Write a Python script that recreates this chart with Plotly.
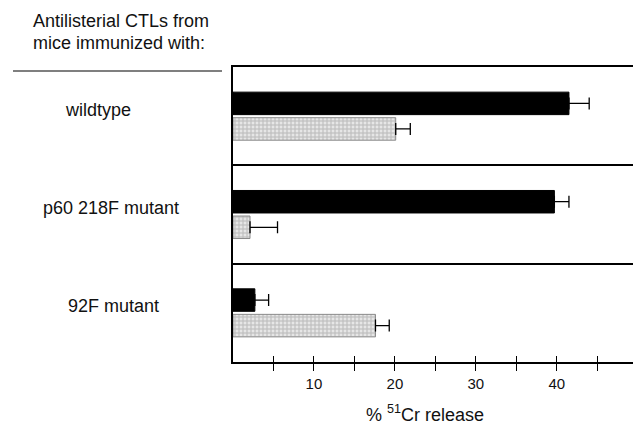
import plotly.graph_objects as go

categories = ["wildtype", "p60 218F mutant", "92F mutant"]
black_vals = [41.5, 39.7, 2.7]
black_err = [2.5, 1.8, 1.7]
gray_vals = [20.1, 2.1, 17.6]
gray_err = [1.8, 3.4, 1.7]
label_ticks = [10, 20, 30, 40]
label_text = ["10", "20", "30", "40"]
minor_ticks = [5, 15, 25, 35, 45]
all_ticks = [5, 10, 15, 20, 25, 30, 35, 40, 45]
header_lines = ["Antilisterial CTLs from", "mice immunized with:"]
x_title = "% <sup>51</sup>Cr release"

FONT = "Liberation Sans, Arial, Helvetica, sans-serif"
TXT = "#111111"
XMAX = 50.4

# page geometry (page body has an 8px margin)
OFF = 8
PLOT_L, PLOT_T, PLOT_B, PAGE_W, PAGE_H = 233, 67, 362, 641, 425
plot_w = PAGE_W - PLOT_L
plot_h = PLOT_B - PLOT_T


def px(x):
    return (x - PLOT_L) / plot_w


def py(y):
    return (PLOT_B - y) / plot_h


fig = go.Figure()
fig.add_trace(go.Bar(
    y=categories, x=black_vals, orientation="h",
    marker=dict(color="black", line=dict(color="black", width=1)),
    error_x=dict(type="data", array=black_err, arrayminus=[0] * 3, symmetric=False,
                 color="black", thickness=1.3, width=6),
    showlegend=False,
))
fig.add_trace(go.Bar(
    y=categories, x=gray_vals, orientation="h",
    marker=dict(color="#d0d0d0",
                pattern=dict(shape="+", size=4, solidity=0.45, fgcolor="#8c8c8c", bgcolor="#e6e6e6"),
                line=dict(color="#8a8a8a", width=1)),
    error_x=dict(type="data", array=gray_err, arrayminus=[0] * 3, symmetric=False,
                 color="black", thickness=1.3, width=6),
    showlegend=False,
))
# invisible trace on second x-axis, used for the inside half of the ticks
fig.add_trace(go.Scatter(x=[0], y=[categories[0]], xaxis="x2", mode="markers",
                         marker=dict(opacity=0), showlegend=False, hoverinfo="skip"))

label_x = [97.5, 111, 114]
for cat, lx in zip(categories, label_x):
    fig.add_annotation(x=px(lx), xref="paper", y=cat, yref="y", yshift=6.5,
                       xanchor="center", yanchor="middle", showarrow=False,
                       text=cat, font=dict(family=FONT, size=18, color=TXT))

for line, ly in zip(header_lines, [21, 43]):
    fig.add_annotation(x=px(31), xref="paper", y=py(ly), yref="paper",
                       xanchor="left", yanchor="middle", showarrow=False,
                       text=line, font=dict(family=FONT, size=18, color=TXT))

fig.add_annotation(x=px(425), xref="paper", y=py(414), yref="paper",
                   xanchor="center", yanchor="middle", showarrow=False,
                   text=x_title, font=dict(family=FONT, size=18, color=TXT))

fig.add_shape(type="line", xref="paper", yref="paper",
              x0=px(13), x1=px(222), y0=py(71), y1=py(71),
              line=dict(color="black", width=1.2))

fig.update_layout(
    width=PAGE_W - OFF, height=PAGE_H - OFF,
    margin=dict(l=PLOT_L - OFF, r=0, t=PLOT_T - OFF, b=PAGE_H - PLOT_B),
    paper_bgcolor="white", plot_bgcolor="white",
    barmode="group", bargap=0.48, bargroupgap=0.12,
    xaxis=dict(range=[0, XMAX], tickvals=label_ticks, ticktext=label_text,
               ticks="outside", ticklen=7, tickwidth=1.3, tickcolor="black",
               minor=dict(tickvals=minor_ticks, ticks="outside", ticklen=7,
                          tickwidth=1.3, tickcolor="black", showgrid=False),
               showline=True, linecolor="black", linewidth=2, mirror=True,
               showgrid=False, zeroline=False,
               tickfont=dict(family=FONT, size=15, color=TXT)),
    xaxis2=dict(range=[0, XMAX], overlaying="x", side="bottom", anchor="y",
                tickvals=all_ticks, ticks="inside", ticklen=6, tickwidth=1.3,
                tickcolor="black", showticklabels=False, showline=False,
                showgrid=False, zeroline=False),
    yaxis=dict(type="category", categoryorder="array", categoryarray=categories,
               range=[2.5, -0.5], tickson="boundaries", showgrid=True,
               gridcolor="black", gridwidth=1.5, ticks="", showticklabels=False,
               showline=True, linecolor="black", linewidth=2, zeroline=False),
)

fig.write_html("out.html")
